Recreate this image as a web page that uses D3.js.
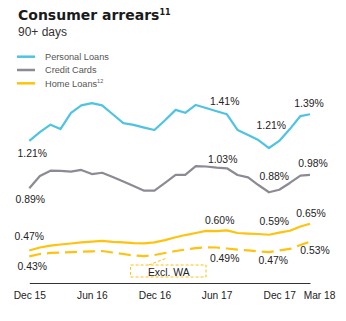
<!doctype html>
<html>
<head>
<meta charset="utf-8">
<title>Consumer arrears</title>
<script src="https://d3js.org/d3.v7.min.js"></script>
<style type="text/css">
	body { margin: 0; background: #fff; }
	text { font-family: "Liberation Sans", Arial, sans-serif; }
	.title { font-family: "DejaVu Sans", sans-serif; font-weight: bold; font-size: 14px; fill: #1a1a1a; }
	.sub { font-size: 12px; fill: #333; }
	.legend { font-size: 9.2px; fill: #555; }
	.val { font-size: 10.4px; fill: #222; }
	.axis text { font-size: 10.2px; fill: #222; }
	.axis path { stroke: #333; }
</style>
</head>
<body>
<script>
	var w = 346;
	var h = 321;

	// monthly points, Dec 15 .. Mar 18
	var months = ["2015-12","2016-01","2016-02","2016-03","2016-04","2016-05","2016-06",
		"2016-07","2016-08","2016-09","2016-10","2016-11","2016-12","2017-01","2017-02",
		"2017-03","2017-04","2017-05","2017-06","2017-07","2017-08","2017-09","2017-10",
		"2017-11","2017-12","2018-01","2018-02","2018-03"];

	var personalLoans = [1.21,1.27,1.32,1.29,1.40,1.45,1.465,1.45,1.39,1.33,1.318,1.30,1.284,
		1.35,1.42,1.40,1.453,1.432,1.41,1.39,1.284,1.25,1.216,1.162,1.21,1.29,1.378,1.39];
	var creditCards = [0.89,0.973,1.009,1.007,1.002,1.014,0.986,0.995,0.966,0.936,0.905,0.874,0.874,
		0.926,0.98,0.98,1.04,1.037,1.03,1.025,0.98,0.964,0.912,0.863,0.88,0.926,0.975,0.98];
	var homeLoans = [0.47,0.49,0.503,0.51,0.517,0.524,0.53,0.534,0.528,0.525,0.52,0.518,0.525,
		0.54,0.559,0.574,0.588,0.602,0.60,0.606,0.588,0.584,0.581,0.576,0.59,0.603,0.632,0.65];
	var homeLoansExWA = [0.43,0.446,0.453,0.456,0.459,0.461,0.464,0.466,0.456,0.446,0.436,0.432,0.439,
		0.453,0.466,0.476,0.486,0.491,0.49,0.483,0.476,0.47,0.463,0.459,0.47,0.48,0.507,0.53];

	var tickMonths = ["2015-12","2016-06","2016-12","2017-06","2017-12","2018-03"];
	var tickLabels = ["Dec 15","Jun 16","Dec 16","Jun 17","Dec 17","Mar 18"];

	// value call-outs: series, month, text
	var callouts = [
		["personal","2015-12","1.21%"],["personal","2017-06","1.41%"],
		["personal","2017-12","1.21%"],["personal","2018-03","1.39%"],
		["credit","2015-12","0.89%"],["credit","2017-06","1.03%"],
		["credit","2017-12","0.88%"],["credit","2018-03","0.98%"],
		["home","2015-12","0.47%"],["home","2017-06","0.60%"],
		["home","2017-12","0.59%"],["home","2018-03","0.65%"],
		["homeWA","2015-12","0.43%"],["homeWA","2017-06","0.49%"],
		["homeWA","2017-12","0.47%"],["homeWA","2018-03","0.53%"]
	];
	// label offsets from the point (dx, dy), same order as callouts
	var calloutOffsets = [[3,16],[8,-6],[-8,-12],[-1,-7],
		[1,15],[6,-5],[-5,-10],[3,-8],
		[0,-10],[3,-7],[-5,-8],[1,-7],
		[3,14],[8,15],[-6,14],[5,12]];

	var parseMonth = d3.timeParse("%Y-%m");
	var dates = months.map(parseMonth);

	var colors = {personal:"#4fc3e3", credit:"#8b8a95", home:"#ffc20e", homeWA:"#ffc20e"};
	var seriesVals = {personal:personalLoans, credit:creditCards, home:homeLoans, homeWA:homeLoansExWA};

	var svg = d3.select("body")
				.append("svg")
				.attr("width",w)
				.attr("height",h);

	var xScale = d3.scaleTime()
				   .domain([dates[0], dates[dates.length-1]])
				   .range([29.3, 310]);
	var yScale = d3.scaleLinear()
				   .domain([0.25, 1.5])
				   .range([283, 98]);

	// title
	var title = svg.append("text").attr("class","title").attr("x",18).attr("y",19.5);
	title.append("tspan").text("Consumer arrears");
	title.append("tspan").attr("font-size","8px").attr("dy","-5").text("11");

	svg.append("text").attr("class","sub").attr("x",18).attr("y",35.5).text("90+ days");

	// legend
	var legendItems = [["personal","Personal Loans"],["credit","Credit Cards"],["home","Home Loans"]];
	var lg = svg.append("g").selectAll("g")
		.data(legendItems)
		.enter()
		.append("g")
		.attr("transform", function(d,i){ return "translate(17," + (56.7 + i*13.3) + ")"; });
	lg.append("line")
		.attr("x1",0).attr("x2",18)
		.attr("stroke", function(d){ return colors[d[0]]; })
		.attr("stroke-width",2.5);
	var lt = lg.append("text")
		.attr("class","legend")
		.attr("x",28).attr("y",3.3);
	lt.append("tspan").text(function(d){ return d[1]; });
	lt.filter(function(d){ return d[0]=="home"; })
		.append("tspan").attr("font-size","5.5px").attr("dy","-3.5").text("12");

	// lines
	var line = d3.line()
		.x(function(d,i){ return xScale(dates[i]); })
		.y(function(d){ return yScale(d); });

	["homeWA","home","credit","personal"].forEach(function(k){
		svg.append("path")
			.attr("d", line(seriesVals[k]))
			.attr("fill","none")
			.attr("stroke", colors[k])
			.attr("stroke-width", 2.2)
			.attr("stroke-dasharray", k=="homeWA" ? "12,6" : null)
			.attr("stroke-linejoin","round");
	});

	// x axis
	var xAxis = d3.axisBottom(xScale)
		.tickValues(tickMonths.map(parseMonth))
		.tickFormat(function(d,i){ return tickLabels[i]; })
		.tickSize(0)
		.tickSizeOuter(0)
		.tickPadding(9);

	var gx = svg.append("g")
		.attr("class","axis")
		.attr("transform","translate(0,283)")
		.call(xAxis);
	gx.select(".domain").attr("stroke-width",1.2);
	gx.selectAll(".tick text")
		.attr("dx", function(d,i){ return i==tickLabels.length-1 ? 9 : 0; });

	// call-out labels
	svg.append("g").selectAll("text")
		.data(callouts)
		.enter()
		.append("text")
		.attr("class","val")
		.attr("text-anchor","middle")
		.attr("x", function(d,i){
			return xScale(parseMonth(d[1])) + calloutOffsets[i][0];
		})
		.attr("y", function(d,i){
			var idx = months.indexOf(d[1]);
			return yScale(seriesVals[d[0]][idx]) + calloutOffsets[i][1];
		})
		.text(function(d){ return d[2]; });

	// "Excl. WA" box and leader
	var boxX0 = xScale(parseMonth("2016-10")) - 3;
	var boxX1 = xScale(parseMonth("2017-05"));
	svg.append("rect")
		.attr("x", boxX0).attr("y", 265)
		.attr("width", boxX1 - boxX0).attr("height", 12)
		.attr("fill","none")
		.attr("stroke", colors.homeWA)
		.attr("stroke-width",1)
		.attr("stroke-dasharray","3,2");
	svg.append("line")
		.attr("x1", boxX0 + 18).attr("y1", 265)
		.attr("x2", xScale(parseMonth("2017-01")) + 2).attr("y2", 258)
		.attr("stroke", colors.homeWA)
		.attr("stroke-width",1)
		.attr("stroke-dasharray","3,2");
	svg.append("text")
		.attr("class","val")
		.attr("text-anchor","middle")
		.attr("font-size","10.6px")
		.attr("x", (boxX0 + boxX1)/2 + 0.5)
		.attr("y", 275.5)
		.text("Excl. WA");
</script>
</body>
</html>
